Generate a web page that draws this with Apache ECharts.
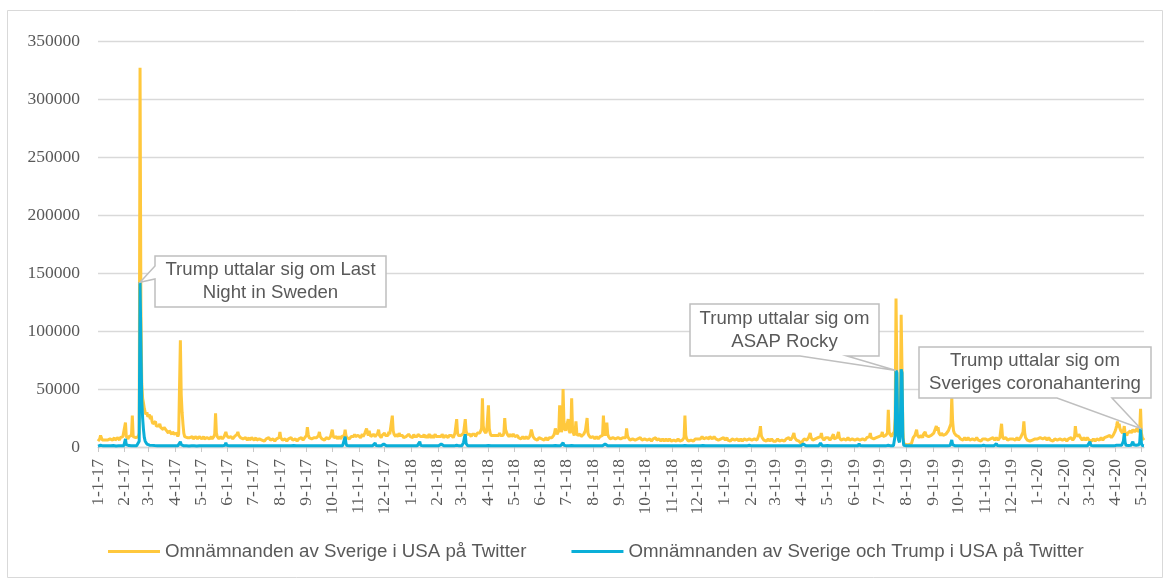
<!DOCTYPE html>
<html>
<head>
<meta charset="utf-8">
<script src="https://cdn.jsdelivr.net/npm/echarts@6.0.0/dist/echarts.min.js"></script>
<style>
html,body{margin:0;padding:0;background:#fff;}
#chart{width:1169px;height:580px;}
</style>
</head>
<body>
<div id="chart"></div>
<script>
// Daily values, in thousands of mentions. Start date: 1 Jan 2017.
const startYear = 2017;
const seriesNames = ['Omnämnanden av Sverige i USA på Twitter', 'Omnämnanden av Sverige och Trump i USA på Twitter'];

const sverige2017 = [
5,6,7,10,8,6,5,6,6,7,5,6,7,6,7,8,6,6,7,8,6,7,7,8,7,6,8,7,8,9,8,
8,21,9,8,7,9,8,9,10,27,9,8,9,8,7,8,9,12,327,120,55,42,38,33,30,28,30,26,
25,28,24,27,22,20,21,19,22,18,19,17,18,20,17,16,18,15,17,16,15,14,16,12,14,13,15,11,13,12,11,
11,10,12,9,11,10,92,45,30,20,12,9,8,9,8,7,9,8,7,8,9,7,8,7,9,8,7,8,9,8,
8,7,8,9,7,8,7,8,9,8,7,8,9,7,8,9,11,29,12,9,8,7,8,9,8,7,8,9,10,13,10,
9,8,7,8,9,8,7,8,9,8,10,11,13,10,9,8,7,8,7,6,7,8,7,6,7,8,6,7,8,7,
7,6,7,8,6,7,6,7,8,7,6,7,6,5,6,7,6,7,8,7,6,7,6,7,6,5,6,7,6,7,8,
13,8,7,6,7,6,7,6,5,6,7,6,7,8,7,6,7,6,7,6,5,6,7,6,7,8,7,6,7,8,9,
10,17,11,8,7,8,7,6,7,8,9,7,8,9,10,13,9,8,7,8,7,6,7,8,9,8,7,8,9,10,
15,10,8,7,8,9,7,8,9,8,7,9,8,9,10,15,10,8,9,8,7,8,9,10,8,9,11,9,8,9,10,
9,10,8,9,11,9,10,12,11,16,12,10,14,11,9,10,9,11,10,9,8,10,12,15,10,9,8,10,9,11,
12,10,11,9,10,13,11,10,12,27,14,11,10,9,11,10,9,12,10,9,11,10,8,7,8,9,10,9,11,10,9
];
const sverige2018 = [
9,10,8,11,9,8,10,9,11,10,12,9,8,10,9,11,8,9,10,8,9,11,10,8,9,10,8,9,11,9,8,
8,9,10,8,9,11,10,8,9,10,11,9,8,10,9,11,10,9,8,10,12,11,24,12,10,11,9,10,
11,10,12,13,24,14,11,10,12,11,10,9,11,12,10,11,9,10,12,11,13,12,14,16,42,18,14,13,12,14,13,
36,16,12,10,11,9,10,11,9,10,11,9,10,12,10,9,11,10,12,25,15,13,11,10,9,10,11,9,10,11,
10,9,8,9,10,8,9,8,7,8,9,8,7,8,9,8,7,8,9,11,15,12,9,8,7,8,7,6,7,8,7,
8,7,8,7,6,7,8,7,6,7,8,7,9,8,9,10,12,16,13,11,12,14,36,16,13,15,50,22,16,14,
15,13,24,14,12,14,42,16,12,10,13,22,12,10,9,10,11,9,10,9,11,12,14,13,25,12,10,9,8,9,8,
9,8,7,8,9,8,7,8,9,8,9,10,27,13,10,12,21,11,9,8,7,8,7,8,9,8,7,8,7,8,9,
8,7,8,7,8,9,7,8,16,10,8,7,6,7,6,7,8,7,6,7,6,7,6,7,8,7,6,7,6,7,
6,7,6,5,6,7,6,5,6,7,6,7,8,6,5,6,7,6,5,6,7,6,5,6,7,6,5,6,7,6,5,
6,5,6,7,6,5,6,7,6,5,6,5,6,7,8,27,10,7,6,5,6,5,6,7,6,5,6,7,6,7,
7,6,8,7,8,9,8,7,6,7,8,9,8,7,9,10,8,7,8,9,8,7,6,7,6,5,6,7,8,7,8
];
const sverige2019 = [
7,6,7,8,6,7,6,5,6,7,8,7,6,5,6,7,6,5,6,7,6,5,6,7,8,7,6,7,6,7,8,
7,6,7,6,7,8,7,6,8,9,12,18,10,8,7,6,7,6,5,6,7,6,5,6,7,6,5,6,
6,5,6,7,6,5,6,5,6,7,6,5,6,7,6,7,8,7,6,7,8,9,12,8,7,6,7,6,5,6,5,
2.5,5,6,7,6,7,6,7,8,9,12,8,7,6,7,6,7,6,7,8,7,8,9,12,8,7,6,7,8,7,
7,8,7,6,7,8,7,11,7,6,7,8,9,13,8,7,6,7,6,7,8,7,6,7,8,7,6,7,6,7,6,
7,6,7,6,7,8,7,6,7,6,7,8,7,6,7,8,7,8,9,12,8,7,8,7,6,7,8,7,8,9,
8,9,10,13,9,8,9,10,11,12,32,13,11,10,9,11,12,13,25,128,66,22,15,14,30,114,66,14,3,2,2,
2,3,2,2,3,2,3,2,8,9,10,11,15,10,9,8,9,10,9,8,11,10,13,10,9,10,9,8,9,10,11,
10,12,11,13,18,14,17,12,11,10,12,11,10,9,10,11,10,12,14,16,15,20,43,22,14,12,11,10,11,10,
9,8,7,8,7,6,7,8,7,6,7,8,7,6,7,6,7,8,7,6,7,8,7,6,7,6,5,6,7,6,7,
7,6,7,6,5,6,7,6,7,8,7,6,7,8,7,6,7,8,9,20,10,7,6,7,8,7,6,5,6,7,
7,6,7,8,7,6,7,8,7,6,7,8,9,11,13,22,12,8,7,6,7,6,5,6,5,6,7,6,7,8,7
];
const sverige2020 = [
7,6,7,8,9,8,7,6,7,8,7,6,7,8,7,6,7,6,5,6,7,6,7,6,5,6,7,6,7,6,7,
6,7,6,5,6,7,6,7,8,7,6,7,8,18,11,10,9,11,10,8,7,6,7,8,7,6,7,8,7,
6,7,6,5,6,7,6,5,6,7,8,7,6,7,8,7,6,7,8,7,8,9,8,9,10,9,8,9,10,11,13,
15,18,22,17,20,16,14,13,12,14,18,12,11,10,12,11,13,14,12,11,15,14,13,12,14,16,13,12,15,33,
12,8,7,6
];

const trump2017 = [
0.8,1,1.2,1.5,1,0.8,1,0.9,1,1.1,1,0.9,1,1,1.1,1,0.9,1,1.2,1,1,0.9,1,1.1,1,1,1.2,1,1.1,1.2,1,
1.5,7,2,1,1,1.2,1,1,1,2,1,1,1,1.2,1,1,1,5,142,90,40,25,15,8,5,3.5,2.5,2,
1.8,1.6,1.5,1.5,1.4,1.3,1.3,1.2,1.2,1.2,1.1,1.1,1.2,1,1,1.1,1,1,1.1,1,1,1,1.1,1,1,1,1,0.9,1,1,1,
1,1,1,1,1,1,4.5,2,1.2,1,1,1,0.9,1,1,1,0.9,1,1,1,1,0.9,1,1,1,0.9,1,1,1,1,
1,1,1,0.9,1,1,1,1,1,1,1,0.9,1,1,1,1,1,1.5,1,1,1,1,1,1,1,1,1,1,1.5,3.7,1.5,
1,1,1,1,1,1,1,1,1,1, 1,1,1.2,1,1,1,1,1,1,1, 1,1,1,1,1,1,1,1,1,1,
1,1,1,1,1,1,1,1,1,1, 1,1,1,1,1,1,1,1,1,1, 1,1,1,1,1,1,1,1,1,1, 1,
1.2,1,1,1,1,1,1,1,1,1, 1,1,1,1,1.5,2.6,1.2,1,1,1, 1,1,1,1,1,1,1,1,1,1, 1,
1,1,1,1,1,1,1,1,1,1, 1,1,1,1,1,1,1,1,1,1, 1,1,1,1,1,1,1,1,1,1,
1,1,1,1,1,1,1,1,1,1, 1,1,1,1,1.5,9,3,1.2,1,1, 1,1,1,1,1,1,1,1,1,1, 1,
1,1,1,1,1,1,1,1,1,1, 1,1,1,1,1,1,1,1,1.5,3.4, 1.2,1,1,1,1,1,1,1,1.5,2.6,
1,1,1,1,1,1,1,1,1,1, 1,1,1,1,1,1,1,1,1,1, 1,1,1,1,1,1,1,1,1,1, 1
];
const trump2018 = [
1,1,1,1,1,1,1,1,1,2, 4.6,1.5,1,1,1,1,1,1,1,1, 1,1,1,1,1,1,1,1,1,1, 1,
1,1,1,1.5,2.5,1.2,1,1,1,1, 1,1,1,1,1,1,1,1,1,1, 1,1,1.5,1,1,1,1,1,
1,1.5,4,8,11,3,1.5,1,1,1, 1,1,1,1,1,1,1,1,1,1, 1,1,1,1,1.5,1,1,1,1,1, 1,
1.2,1,1,1,1,1,1,1,1,1, 1,1,1,1,1,1,1,1,1,1.2, 1,1,1,1,1,1,1,1,1,1,
1,1,1,1,1,1,1,1,1,1, 1,1,1,1,1,1,1,1,1,1, 1.2,1,1,1,1,1,1,1,1,1, 1,
1,1,1,1,1,1,1,1,1,1, 1,1,1,1,1,1,1,1.2,1,1, 1,1,1.2,1,1,1,3.7,1.5,1,1,
1,1,1.2,1,1,1,1.2,1,1,1, 1,1,1,1,1,1,1,1,1,1, 1,1,1,1,1,1,1,1,1,1, 1,
1,1,1,1,1,1,1,1,1,1, 1,1,1.2,1,2.5,1.2,1,1,1,1, 1,1,1,1,1,1,1,1,1,1, 1,
1,1,1,1,1,1,1,1,1,1, 1,1,1,1,1,1,1,1,1,1, 1,1,1,1,1,1,1,1,1,1,
1,1,1,1,1,1,1,1,1,1, 1,1,1,1,1,1,1,1,1,1, 1,1,1,1,1,1,1,1,1,1, 1,
1,1,1,1,1,1,1,1,1,1, 1,1,1,1,1,1.2,1,1,1,1, 1,1,1,1,1,1,1,1,1,1,
1,1,1,1,1.5,2.6,1.2,1,1,1, 1,1,1,1,1,1,1,1,1,1, 1,1,1,1,1,1,1,1,1,1, 1
];
const trump2019 = [
1,1,1,1,1,1,1,1,1,1, 1,1,1,1,1,1,1,1,1,1, 1,1,1,1,1,1,1,1,1,1.5, 2.5,
1.2,1,1,1,1,1,1,1,1,1, 1,1.2,1,1,1,1,1,1,1,1, 1,1,1,1,1,1,1,1,
1,1,1,1,1,1,1,1,1,1, 1,1,1,1,1,1,1,1,1,1, 1,1,1,1,1,1,1,1,1,1, 1,
1,1,2.6,1.2,1,1,1,1,1,1, 1,1,1,1,1,1,1,1,1,1, 1,1,3.5,2,1,1,1,1,1,2,
1.2,1,1,1,1,1,1,1,1,1, 1,1,1,1,1,1,1,1,1,1, 1,1,1,1,1,1,1,1,1,1, 1,
1,1,1,1,1,1,3,1.2,1,1, 1,1,1,1,1,1,1,1,1,1, 1,1,1,1,1,1,1,1,1,1,
1,1,1,1,1,1,1,1,1,1, 1.5,1,1,1,1,1,1,1,10,66, 64,12,6,4,15,67,64,8,1.5,1, 1,
1,1,0.8,1,1,1,1,1,1,1, 1,1,1,1,1,1,1,1,1,1, 1,1,1,1,1,1,1,1,1,1, 1,
1,1,1,1,1.2,1,1,1,1,1, 1,1,1,1,1,1,1,1,1,1, 1.2,2,6,2,1.2,1,1,1,1,1,
1,1,1,1,1,1,1,1,1,1, 1,1,1,1,1,1,1,1,1,1, 1,1,1,1,1,1,1,1,1,1.5, 3,
1.2,1,1,1,1,1,1,1,1,1, 1,1,1.5,3,1.2,1,1,1,1,1, 1,1,1,1,1,1,1,1,1,1,
1,1,1,1,1,1,1,1,1,1, 1,1,1,1,1,1,1,1,1,1, 1,1,1,1,1,1,1,1,1,1, 1
];
const trump2020 = [
1,1,1,1,1,1,1,1,1,1, 1,1,1,1,1,1,1,1,1,1, 1,1,1,1,1,1,1,1,1,1, 1,
1,1,1,1,1,1,1,1,1,1, 1,1,1,1,1,1,1,1,1,1, 1,1,1,1,1,1,1,1,1,
1.5,4.6,1.5,1,1,1,1,1,1,1, 1,1,1,1,1,1,1,1,1,1, 1,1,1,1,1,1,1,1,1,1, 1.2,
1.2,1.5,1.5,1.2,1.5,1.2,1.2,1.5,2,5, 12,4,1.5,1.2,1.2,1.2,1,1.2,1.5,2, 4.5,2,1.2,1.2,1.5,1.5,2,2,4,16,
3,1.2,1,1
];

const callouts = [
  { date: '2-19-17', text: 'Trump uttalar sig om Last\nNight in Sweden' },
  { date: '7-20-19', text: 'Trump uttalar sig om\nASAP Rocky' },
  { date: '4-30-20', text: 'Trump uttalar sig om\nSveriges coronahantering' }
];

// ---- build ----
const UNIT = 1000;
const sverige = [].concat(sverige2017, sverige2018, sverige2019, sverige2020).map(v => v * UNIT);
const trump = [].concat(trump2017, trump2018, trump2019, trump2020).map(v => v * UNIT);

const categories = [];
const t0 = Date.UTC(startYear, 0, 1);
for (let i = 0; i < sverige.length; i++) {
  const d = new Date(t0 + i * 86400000);
  categories.push((d.getUTCMonth() + 1) + '-' + d.getUTCDate() + '-' + String(d.getUTCFullYear()).slice(2));
}
const isMonthStart = (i, v) => String(v).split('-')[1] === '1';

const chart = echarts.init(document.getElementById('chart'), null, { renderer: 'canvas' });
const axisFont = 'Liberation Serif';
const textColor = '#595959';

chart.setOption({
  animation: false,
  backgroundColor: '#ffffff',
  grid: { left: 98, right: 25, top: 41, bottom: 133, containLabel: false },
  xAxis: {
    type: 'category',
    data: categories,
    boundaryGap: false,
    axisLine: { show: true, lineStyle: { color: '#D9D9D9', width: 1.3 } },
    axisTick: { show: true, interval: isMonthStart, length: 5, lineStyle: { color: '#C8C8C8', width: 1 } },
    axisLabel: { interval: isMonthStart, rotate: 90, fontFamily: axisFont, fontSize: 17.5, color: textColor, margin: 12 },
    splitLine: { show: false }
  },
  yAxis: {
    type: 'value', min: 0, max: 350000, interval: 50000,
    axisLine: { show: false }, axisTick: { show: false },
    axisLabel: { fontFamily: axisFont, fontSize: 17.5, color: textColor, margin: 18, formatter: v => String(v) },
    splitLine: { lineStyle: { color: '#D9D9D9', width: 1.3 } }
  },
  legend: {
    left: 108, top: 542, padding: 0,
    icon: 'rect', itemWidth: 52, itemHeight: 3, itemGap: 45,
    textStyle: { fontFamily: 'Liberation Sans', fontSize: 18.7, color: textColor },
    data: seriesNames
  },
  series: [
    { name: seriesNames[0], type: 'line', data: sverige, showSymbol: false, symbol: 'none',
      lineStyle: { color: '#FFC83D', width: 3 }, itemStyle: { color: '#FFC83D' }, z: 2 },
    { name: seriesNames[1], type: 'line', data: trump, showSymbol: false, symbol: 'none',
      lineStyle: { color: '#0BAFD8', width: 3 }, itemStyle: { color: '#0BAFD8' }, z: 3 }
  ]
});

// callout box layout (pixels)
const boxes = [
  { x: 155, y: 256, w: 231, h: 51, side: 'left', b1: 266, b2: 279 },
  { x: 690, y: 304, w: 189, h: 52, side: 'bottom', b1: 800, b2: 847 },
  { x: 919, y: 347, w: 232, h: 51, side: 'bottom', b1: 1057, b2: 1112 }
];
const elements = [{
  type: 'rect', silent: true, z: 0,
  shape: { x: 7.5, y: 10.5, width: 1155, height: 567 },
  style: { fill: 'none', stroke: '#D9D9D9', lineWidth: 1 }
}];
callouts.forEach((c, k) => {
  const idx = categories.indexOf(c.date);
  const tip = chart.convertToPixel({ gridIndex: 0 }, [idx, trump[idx]]);
  const b = boxes[k];
  const L = b.x, T = b.y, R = b.x + b.w, B = b.y + b.h;
  let pts;
  if (b.side === 'left') {
    pts = [[L, T], [R, T], [R, B], [L, B], [L, b.b2], tip, [L, b.b1]];
  } else {
    pts = [[L, T], [R, T], [R, B], [b.b2, B], tip, [b.b1, B], [L, B]];
  }
  elements.push({
    type: 'polygon', z: 100, silent: true,
    shape: { points: pts },
    style: { fill: '#ffffff', stroke: '#BFBFBF', lineWidth: 1.5 }
  });
  elements.push({
    type: 'text', z: 101, silent: true,
    style: {
      text: c.text, x: L + b.w / 2, y: T + b.h / 2,
      align: 'center', verticalAlign: 'middle',
      textAlign: 'center', textVerticalAlign: 'middle',
      font: '18.6px "Liberation Sans"', fill: textColor, lineHeight: 23
    }
  });
});
chart.setOption({ graphic: { elements: elements } });
</script>
</body>
</html>
